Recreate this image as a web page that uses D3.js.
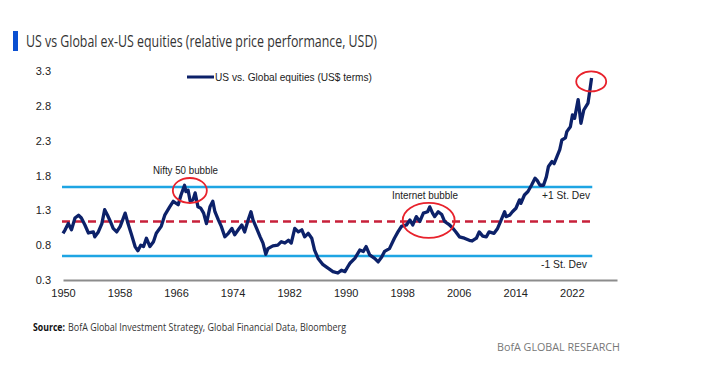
<!DOCTYPE html>
<html>
<head>
<meta charset="utf-8">
<script src="https://cdn.jsdelivr.net/npm/d3@7"></script>
<style>
  body { margin: 0; background: #fff; }
  text { font-family: "Liberation Sans", Arial, sans-serif; }
</style>
</head>
<body>
<div id="canvas"></div>
<script>
// data
const years = [1950.0,1950.3,1950.75,1951.2,1951.7,1952.2,1952.6,1953.1,1953.6,1954.3,1954.5,1955.0,1955.5,1955.9,1956.3,1956.7,1957.1,1957.6,1958.1,1958.8,1959.2,1959.7,1960.2,1960.6,1961.0,1961.4,1961.8,1962.3,1962.8,1963.2,1963.9,1964.4,1965.1,1965.6,1966.3,1966.7,1967.2,1967.4,1967.7,1968.0,1968.4,1968.7,1969.1,1969.5,1969.9,1970.3,1970.8,1971.2,1971.5,1972.0,1972.4,1972.9,1973.4,1973.9,1974.3,1974.8,1975.3,1975.7,1976.2,1976.6,1976.9,1977.4,1977.9,1978.3,1978.7,1979.0,1979.7,1980.4,1980.9,1981.4,1981.9,1982.3,1982.8,1983.3,1983.8,1984.2,1984.7,1985.2,1985.6,1986.1,1986.8,1987.5,1988.2,1988.9,1989.4,1989.9,1990.3,1990.6,1991.3,1992.0,1992.5,1992.9,1993.4,1994.1,1994.6,1995.1,1995.5,1996.2,1996.9,1997.4,1997.9,1998.6,1999.1,1999.5,2000.0,2000.5,2001.0,2001.6,2001.9,2002.3,2002.6,2003.1,2003.6,2004.0,2004.7,2005.2,2005.6,2006.1,2006.8,2007.5,2007.9,2008.5,2008.9,2009.4,2009.9,2010.3,2011.0,2011.5,2012.0,2012.5,2012.7,2013.2,2013.6,2014.1,2014.6,2014.8,2015.3,2015.8,2016.3,2016.8,2017.1,2017.5,2018.0,2018.4,2018.7,2019.2,2019.5,2019.9,2020.3,2020.6,2021.1,2021.3,2021.8,2022.1,2022.4,2022.9,2023.3,2023.7,2024.3,2024.5,2024.8];
const values = [0.97,1.02,1.11,1.02,1.19,1.23,1.19,1.09,0.975,0.99,0.92,0.99,1.11,1.31,1.23,1.14,1.04,0.99,1.07,1.26,1.11,0.95,0.78,0.72,0.80,0.78,0.90,0.78,0.85,0.97,1.07,1.23,1.35,1.43,1.38,1.52,1.66,1.57,1.59,1.43,1.45,1.55,1.35,1.33,1.26,1.11,1.35,1.43,1.28,1.16,1.07,0.92,0.97,1.04,0.95,1.02,1.09,0.99,1.16,1.28,1.16,1.04,0.92,0.83,0.67,0.75,0.79,0.80,0.85,0.83,0.87,0.83,1.04,0.99,1.02,0.92,0.97,0.90,0.73,0.61,0.52,0.47,0.42,0.40,0.44,0.42,0.49,0.54,0.61,0.73,0.71,0.78,0.66,0.61,0.56,0.63,0.71,0.75,0.90,0.99,1.07,1.09,1.16,1.09,1.21,1.14,1.26,1.28,1.35,1.26,1.21,1.28,1.24,1.14,1.09,1.04,0.99,0.92,0.90,0.87,0.86,0.90,0.99,0.93,0.92,0.99,0.97,1.04,1.16,1.28,1.21,1.23,1.28,1.33,1.45,1.40,1.52,1.57,1.66,1.76,1.73,1.66,1.66,1.78,1.93,2.00,1.97,2.07,2.17,2.31,2.34,2.43,2.50,2.67,2.62,2.89,2.55,2.74,2.84,2.98,3.20];

const yTicks = [0.3, 0.8, 1.3, 1.8, 2.3, 2.8, 3.3];
const xTicks = [1950, 1958, 1966, 1974, 1982, 1990, 1998, 2006, 2014, 2022];

const meanValue = 1.14;
const plusSd = 1.635;
const minusSd = 0.645;

const bubbleNames = ["Nifty 50 bubble", "Internet bubble", ""];
const bubbleYears = [1967.95, 2001.75, 2024.75];
const bubbleValues = [1.585, 1.155, 3.15];

const width = 703;
const height = 388;

const svg = d3.select("#canvas").append("svg")
  .attr("width", width)
  .attr("height", height);

const x = d3.scaleLinear().domain([1950, 2028.4]).range([63, 617]);
const y = d3.scaleLinear().domain([0.3, 3.3]).range([280, 71]);

// title
svg.append("rect").attr("x", 13).attr("y", 31).attr("width", 5).attr("height", 20).attr("fill", "#0a4fd1");
svg.append("text")
  .attr("x", 26).attr("y", 47)
  .attr("textLength", 351).attr("lengthAdjust", "spacingAndGlyphs")
  .style("font-family", "'Open Sans', sans-serif")
  .style("font-size", "15.5px")
  .attr("fill", "#333")
  .text("US vs Global ex-US equities (relative price performance, USD)");

// y tick labels (no axis line)
svg.append("g").selectAll("text").data(yTicks).enter().append("text")
  .attr("x", 51).attr("y", d => y(d) + 4)
  .attr("text-anchor", "end")
  .style("font-size", "11px")
  .attr("fill", "#222")
  .text(d => d.toFixed(1));

// x axis
const xAxis = svg.append("g")
  .attr("transform", `translate(0,${y(0.3)})`)
  .call(d3.axisBottom(x).tickValues(xTicks).tickFormat(d3.format("d")).tickSize(0).tickPadding(9));
xAxis.select(".domain").attr("stroke", "#8c8c8c").attr("stroke-width", 2.2);
xAxis.selectAll("text").style("font-size", "11px").style("font-family", "'Liberation Sans', Arial, sans-serif").attr("fill", "#222");

// reference lines
const lineEnd = 2024.9;
[plusSd, minusSd].forEach(v => {
  svg.append("line")
    .attr("x1", x(1950) - 1).attr("x2", x(lineEnd))
    .attr("y1", y(v)).attr("y2", y(v))
    .attr("stroke", "#1ea5e3").attr("stroke-width", 2.6);
});
svg.append("line")
  .attr("x1", x(1950) - 1).attr("x2", x(lineEnd))
  .attr("y1", y(meanValue)).attr("y2", y(meanValue))
  .attr("stroke", "#c8203a").attr("stroke-width", 2.6)
  .attr("stroke-dasharray", "8,5");

// series
const series = years.map((yr, i) => ({ yr: yr, v: values[i] }));
const line = d3.line().x(d => x(d.yr)).y(d => y(d.v));
svg.append("path")
  .datum(series)
  .attr("d", line)
  .attr("fill", "none")
  .attr("stroke", "#0c2169")
  .attr("stroke-width", 3.3)
  .attr("stroke-linejoin", "round");

// sd labels
svg.append("text").attr("x", 542).attr("y", y(plusSd) + 12)
  .attr("textLength", 48).attr("lengthAdjust", "spacingAndGlyphs")
  .style("font-size", "10.5px").attr("fill", "#222").text("+1 St. Dev");
svg.append("text").attr("x", 541).attr("y", y(minusSd) + 12)
  .attr("textLength", 46).attr("lengthAdjust", "spacingAndGlyphs")
  .style("font-size", "10.5px").attr("fill", "#222").text("-1 St. Dev");

// bubble ellipses
const rx = [17, 26, 15];
const ry = [12.5, 17.5, 10];
bubbleYears.forEach((yr, i) => {
  svg.append("ellipse")
    .attr("cx", x(yr)).attr("cy", y(bubbleValues[i]))
    .attr("rx", rx[i]).attr("ry", ry[i])
    .attr("fill", "none").attr("stroke", "#e8222c").attr("stroke-width", 1.8);
});
svg.append("text").attr("x", 153).attr("y", 174)
  .attr("textLength", 65).attr("lengthAdjust", "spacingAndGlyphs")
  .style("font-size", "10.5px").attr("fill", "#222").text(bubbleNames[0]);
svg.append("text").attr("x", 392).attr("y", 199)
  .attr("textLength", 66).attr("lengthAdjust", "spacingAndGlyphs")
  .style("font-size", "10.5px").attr("fill", "#222").text(bubbleNames[1]);

// legend
svg.append("line").attr("x1", 187).attr("x2", 214).attr("y1", 77).attr("y2", 77)
  .attr("stroke", "#0c2169").attr("stroke-width", 3);
svg.append("text").attr("x", 215).attr("y", 81)
  .attr("textLength", 157).attr("lengthAdjust", "spacingAndGlyphs")
  .style("font-size", "10.5px").attr("fill", "#222")
  .text("US vs. Global equities (US$ terms)");

// footer
svg.append("text").attr("x", 33).attr("y", 331)
  .attr("textLength", 32).attr("lengthAdjust", "spacingAndGlyphs")
  .style("font-family", "'Open Sans', sans-serif").style("font-size", "10.5px")
  .style("font-weight", "bold").attr("fill", "#111")
  .text("Source:");
svg.append("text").attr("x", 68).attr("y", 331)
  .attr("textLength", 278).attr("lengthAdjust", "spacingAndGlyphs")
  .style("font-family", "'Open Sans', sans-serif").style("font-size", "10.5px").attr("fill", "#333")
  .text("BofA Global Investment Strategy, Global Financial Data, Bloomberg");

svg.append("text").attr("x", 497).attr("y", 351)
  .attr("textLength", 123).attr("lengthAdjust", "spacingAndGlyphs")
  .style("font-family", "'Open Sans', sans-serif").style("font-size", "10.5px").attr("fill", "#777")
  .text("BofA GLOBAL RESEARCH");
</script>
</body>
</html>
